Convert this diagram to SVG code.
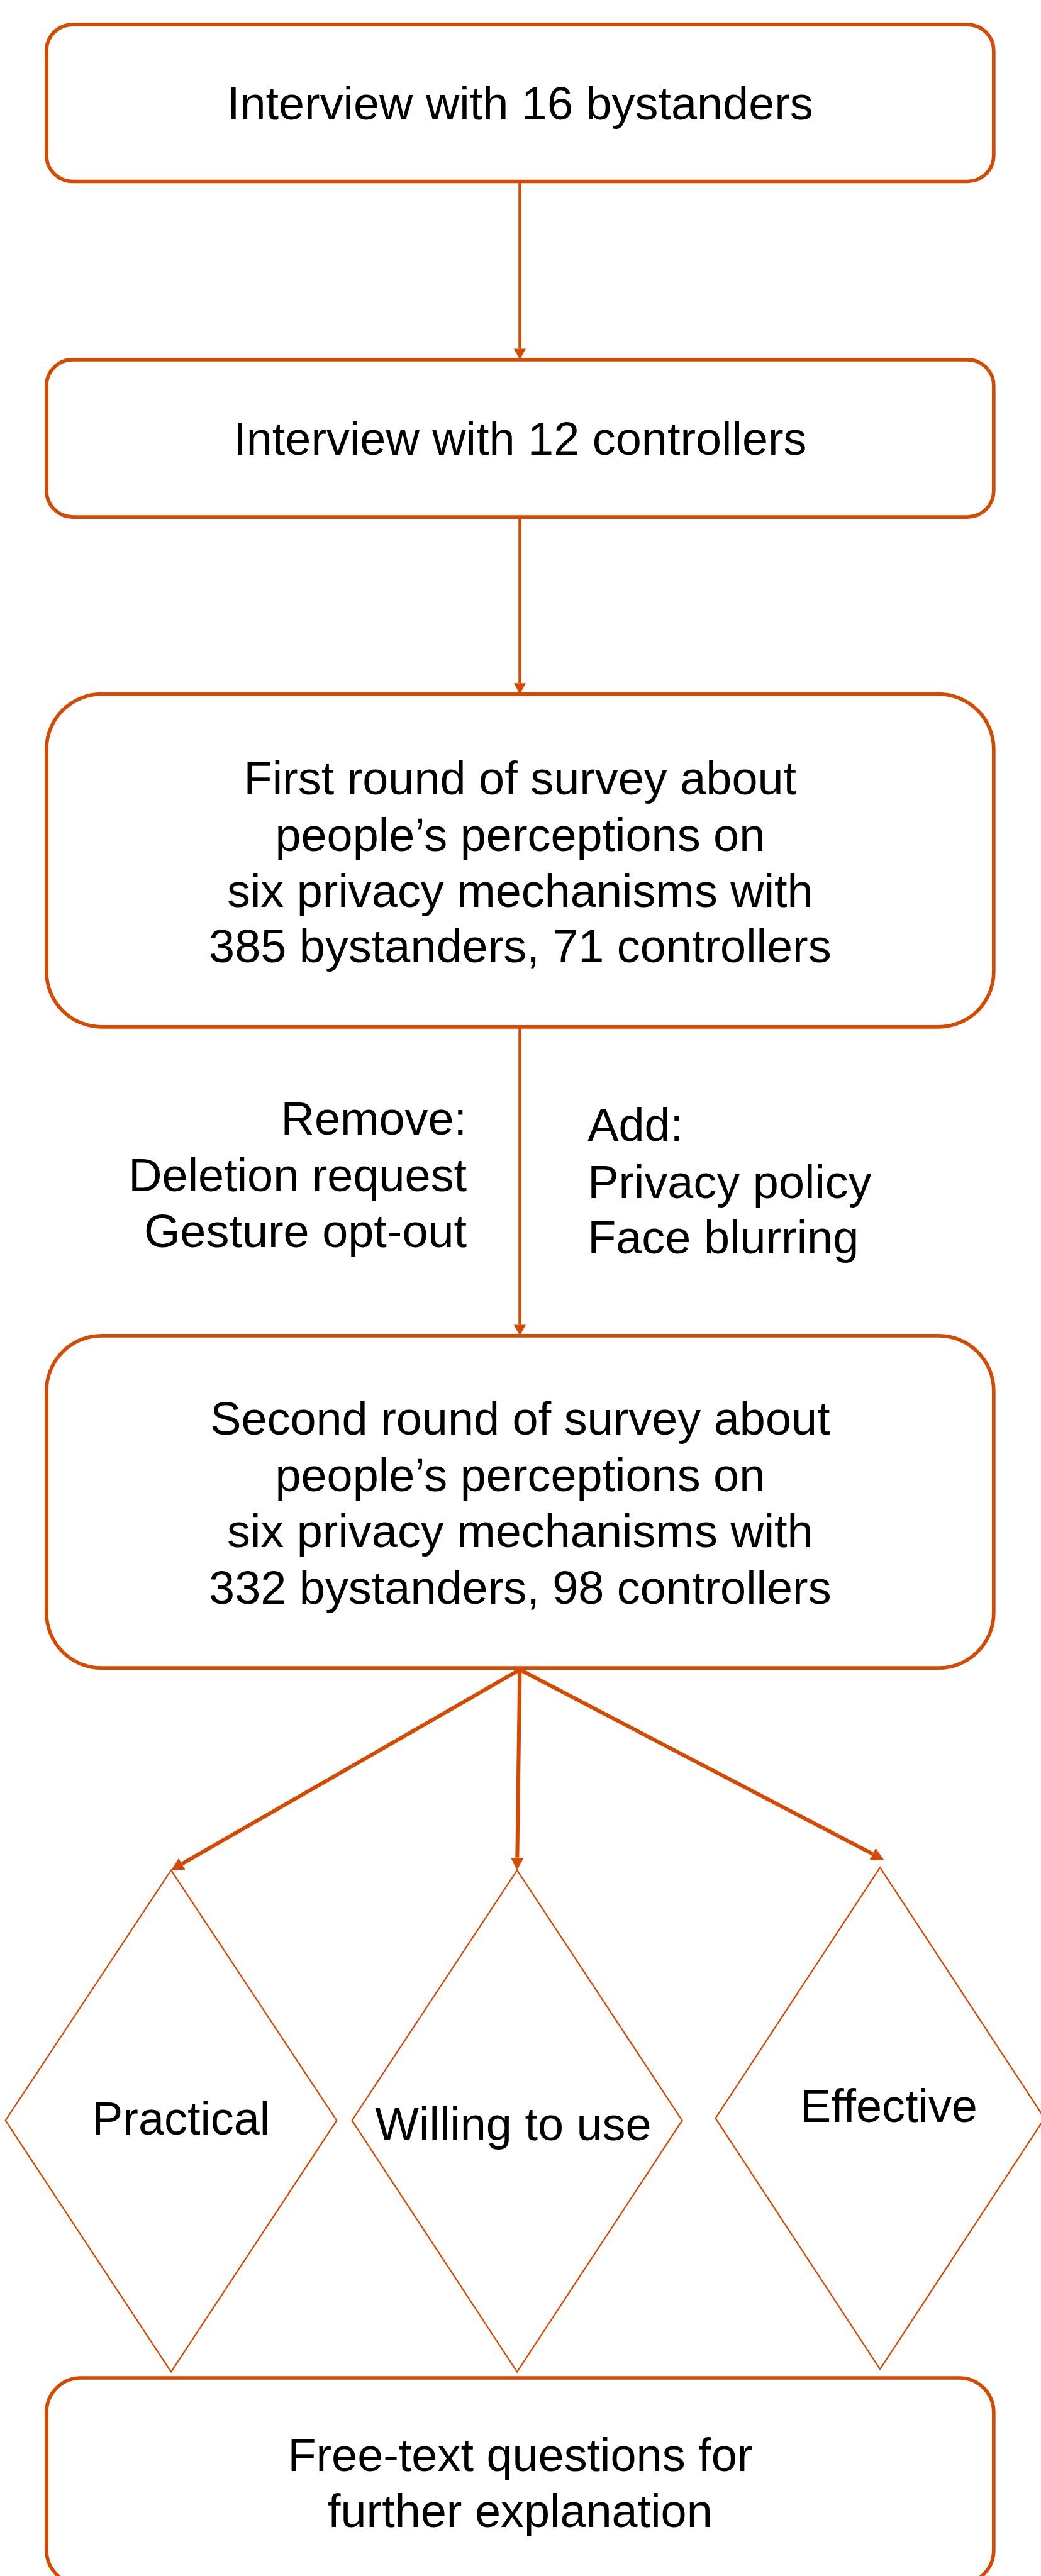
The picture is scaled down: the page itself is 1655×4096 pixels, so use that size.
<svg xmlns="http://www.w3.org/2000/svg" width="1655" height="4096" viewBox="0 0 1655 4096">
<style>
.box{fill:#ffffff;stroke:#D64900;stroke-width:6.5}
.dia{fill:#ffffff;stroke:#D64900;stroke-width:2.6}
.lbl{font-family:"Liberation Sans",Arial,Helvetica,sans-serif;font-size:85px;fill:#000000}
.c{text-anchor:middle}
.r{text-anchor:end}
.l{text-anchor:start}
.conn{fill:none;stroke:#D64900}
.thin{stroke-width:5}
.thick{stroke-width:7}
</style>
<defs>
<marker id="ahS" markerUnits="userSpaceOnUse" markerWidth="20" markerHeight="22" viewBox="0 0 20 22" refX="0" refY="11" orient="auto">
<path d="M0,0 L20,11 L0,22 z" fill="#D64900"/>
</marker>
<marker id="ahL" markerUnits="userSpaceOnUse" markerWidth="23" markerHeight="24" viewBox="0 0 23 24" refX="0" refY="12" orient="auto">
<path d="M0,0 L23,12 L0,24 z" fill="#D64900"/>
</marker>
</defs>
<rect x="0" y="0" width="1655" height="4096" fill="#ffffff"/>
<g transform="scale(0.869)">
<g id="connectors">
<line class="conn thin" x1="951" y1="332" x2="951" y2="638" marker-end="url(#ahS)"/>
<line class="conn thin" x1="951" y1="946" x2="951" y2="1250" marker-end="url(#ahS)"/>
<line class="conn thin" x1="951" y1="1879" x2="951" y2="2424" marker-end="url(#ahS)"/>
<line class="conn thick" x1="951" y1="3055" x2="332.9" y2="3410.5" marker-end="url(#ahL)"/>
<line class="conn thick" x1="951" y1="3055" x2="946.3" y2="3399" marker-end="url(#ahL)"/>
<line class="conn thick" x1="951" y1="3055" x2="1596.6" y2="3392.3" marker-end="url(#ahL)"/>
</g>
<g id="n1">
<rect class="box" x="85" y="45" width="1733" height="287" rx="48" ry="48"/>
<text class="lbl c" x="951.5" y="219">Interview with 16 bystanders</text>
</g>
<g id="n2">
<rect class="box" x="85" y="658" width="1733" height="288" rx="48" ry="48"/>
<text class="lbl c" x="951.5" y="832">Interview with 12 controllers</text>
</g>
<g id="n3">
<rect class="box" x="85" y="1270" width="1733" height="609" rx="101" ry="101"/>
<text class="lbl c" x="951.5" y="1453">First round of survey about</text>
<text class="lbl c" x="951.5" y="1557">people’s perceptions on</text>
<text class="lbl c" x="951.5" y="1659">six privacy mechanisms with</text>
<text class="lbl c" x="951.5" y="1761">385 bystanders, 71 controllers</text>
</g>
<g id="edge-labels">
<text class="lbl r" x="854" y="2076">Remove:</text>
<text class="lbl r" x="854" y="2180">Deletion request</text>
<text class="lbl r" x="854" y="2282">Gesture opt-out</text>
<text class="lbl l" x="1075" y="2088">Add:</text>
<text class="lbl l" x="1075" y="2192">Privacy policy</text>
<text class="lbl l" x="1075" y="2294">Face blurring</text>
</g>
<g id="n4">
<rect class="box" x="85" y="2444" width="1733" height="608" rx="101" ry="101"/>
<text class="lbl c" x="951.5" y="2625">Second round of survey about</text>
<text class="lbl c" x="951.5" y="2728">people’s perceptions on</text>
<text class="lbl c" x="951.5" y="2831">six privacy mechanisms with</text>
<text class="lbl c" x="951.5" y="2934">332 bystanders, 98 controllers</text>
</g>
<g id="d1">
<polygon class="dia" points="313,3422 616,3880 313,4340 10,3880"/>
<text class="lbl c" x="331" y="3906">Practical</text>
</g>
<g id="d2">
<polygon class="dia" points="946,3422 1248,3880 946,4340 644,3880"/>
<text class="lbl c" x="939" y="3916">Willing to use</text>
</g>
<g id="d3">
<polygon class="dia" points="1610,3417 1911,3876 1610,4335 1309,3876"/>
<text class="lbl c" x="1626" y="3883">Effective</text>
</g>
<g id="n5">
<rect class="box" x="85" y="4351" width="1733" height="378" rx="63" ry="63"/>
<text class="lbl c" x="951.5" y="4521">Free-text questions for</text>
<text class="lbl c" x="951.5" y="4624">further explanation</text>
</g>
</g>
</svg>
